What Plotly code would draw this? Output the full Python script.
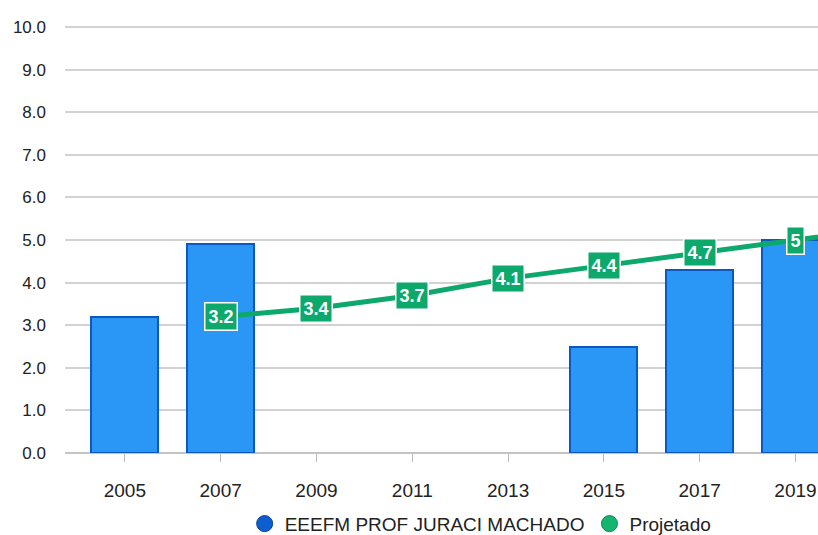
import plotly.graph_objects as go

years_bar = [2005, 2007, 2015, 2017, 2019]
values_bar = [3.2, 4.9, 2.5, 4.3, 5.0]
years_proj = [2007, 2009, 2011, 2013, 2015, 2017, 2019, 2021]
values_proj = [3.2, 3.4, 3.7, 4.1, 4.4, 4.7, 5.0, 5.3]
proj_labels = ["3.2", "3.4", "3.7", "4.1", "4.4", "4.7", "5", "5.3"]
tick_years = [2005, 2007, 2009, 2011, 2013, 2015, 2017, 2019]
y_ticks = [0, 1, 2, 3, 4, 5, 6, 7, 8, 9, 10]

BLUE = "#2a97f7"
BLUE_DARK = "#0b58c0"
GREEN = "#0ca86c"
FONT = "Liberation Sans, Arial"

fig = go.Figure()
fig.add_trace(go.Bar(
    x=years_bar, y=values_bar, width=1.4,
    marker=dict(color=BLUE, line=dict(color=BLUE_DARK, width=2)),
    showlegend=False, name="EEEFM PROF JURACI MACHADO",
))
fig.add_trace(go.Scatter(
    x=years_proj, y=values_proj, mode="lines",
    line=dict(color=GREEN, width=5), showlegend=False, name="Projetado",
))
# legend entries with round markers
fig.add_trace(go.Scatter(
    x=[None], y=[None], mode="markers", name="EEEFM PROF JURACI MACHADO",
    marker=dict(symbol="circle", size=19, color="#0d5fcf", line=dict(color="#0a3f9a", width=1)),
))
fig.add_trace(go.Scatter(
    x=[None], y=[None], mode="markers", name="Projetado",
    marker=dict(symbol="circle", size=19, color="#14b56f", line=dict(color="#0a8a52", width=1)),
))

for xv, yv, lab in zip(years_proj, values_proj, proj_labels):
    if xv > 2019.4:
        continue
    fig.add_annotation(
        x=xv, y=yv, text=f"<b>{lab}</b>", showarrow=False,
        font=dict(color="white", size=18, family=FONT),
        bgcolor=GREEN, bordercolor="white", borderwidth=1.5, borderpad=3,
    )

fig.update_layout(
    width=818, height=535,
    margin=dict(l=65, r=0, t=25, b=82, autoexpand=False),
    plot_bgcolor="white", paper_bgcolor="white",
    font=dict(family=FONT, size=17, color="#222"),
    bargap=0, hovermode=False,
    legend=dict(orientation="h", x=0.552, xanchor="center",
                yref="container", y=0.021, yanchor="middle",
                font=dict(size=19, color="#222"),
                itemwidth=30, tracegroupgap=0),
)
fig.update_xaxes(
    range=[2003.75, 2019.47], tickmode="array", tickvals=tick_years,
    ticktext=[str(t) for t in tick_years],
    showgrid=False, zeroline=False, showline=False, automargin=False,
    ticks="outside", ticklen=8, tickcolor="#bbbbbb", tickwidth=1,
    ticklabelstandoff=12, tickfont=dict(size=19),
)
fig.update_yaxes(
    range=[0, 10.05], tickmode="array", tickvals=y_ticks,
    ticktext=[f"{v:.1f}" for v in y_ticks], automargin=False,
    showgrid=True, gridcolor="#d2d2d2", gridwidth=2,
    zeroline=True, zerolinecolor="#c4c4c4", zerolinewidth=2,
    ticklabelstandoff=18, tickfont=dict(size=17),
)

fig.write_html(
    "out.html",
    config={"displayModeBar": False},
    post_script="document.body.style.margin='0';document.body.style.overflow='hidden';",
)
